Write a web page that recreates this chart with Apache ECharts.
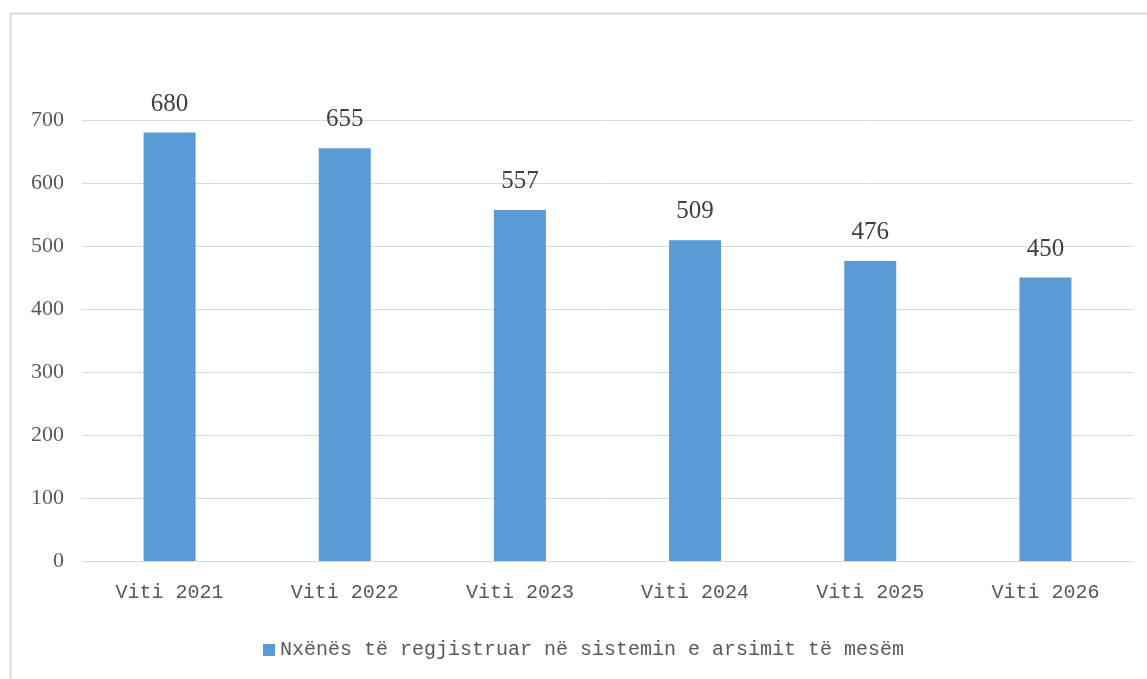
<!DOCTYPE html>
<html><head><meta charset="utf-8">
<script src="https://cdn.jsdelivr.net/npm/echarts@6/dist/echarts.min.js"></script>
<style>html,body{margin:0;padding:0;background:#fff}#c{width:1147px;height:679px}</style>
</head><body><div id="c"></div>
<script>
const categories = ['Viti 2021','Viti 2022','Viti 2023','Viti 2024','Viti 2025','Viti 2026'];
const seriesName = 'Nxënës të regjistruar në sistemin e arsimit të mesëm';
const values = [680, 655, 557, 509, 476, 450];
const chart = echarts.init(document.getElementById('c'), null, {renderer:'canvas'});
chart.setOption({
  animation: false,
  backgroundColor: '#fff',
  graphic: [
    {type:'line', shape:{x1:10,y1:13.5,x2:1147,y2:13.5}, style:{stroke:'#d9d9d9',lineWidth:2}},
    {type:'line', shape:{x1:10.5,y1:13,x2:10.5,y2:679}, style:{stroke:'#d9d9d9',lineWidth:2}}
  ],
  grid: {left:82, right:14, top:120, bottom:118, containLabel:false},
  legend: {
    bottom: 14, left: 258,
    itemWidth: 12, itemHeight: 12, itemGap: 7,
    icon: 'rect',
    textStyle: {fontFamily:'Liberation Mono', fontSize:20, color:'#595959'},
    data: [seriesName]
  },
  xAxis: {
    type:'category', data: categories,
    axisLine:{lineStyle:{color:'#d9d9d9',width:1}},
    axisTick:{show:false},
    axisLabel:{fontFamily:'Liberation Mono', fontSize:20, color:'#595959', margin:22}
  },
  yAxis: {
    type:'value', min:0, max:700, interval:100,
    axisLine:{show:false}, axisTick:{show:false},
    splitLine:{lineStyle:{color:'#d9d9d9',width:1}},
    axisLabel:{fontFamily:'Liberation Serif', fontSize:22, color:'#595959', margin:18}
  },
  series: [{
    name: seriesName, type:'bar', data: values,
    barWidth: 52,
    itemStyle:{color:'#5b9bd5'},
    label:{show:true, position:'top', distance:16, fontFamily:'Liberation Serif', fontSize:25, color:'#404040'}
  }]
});
</script></body></html>
